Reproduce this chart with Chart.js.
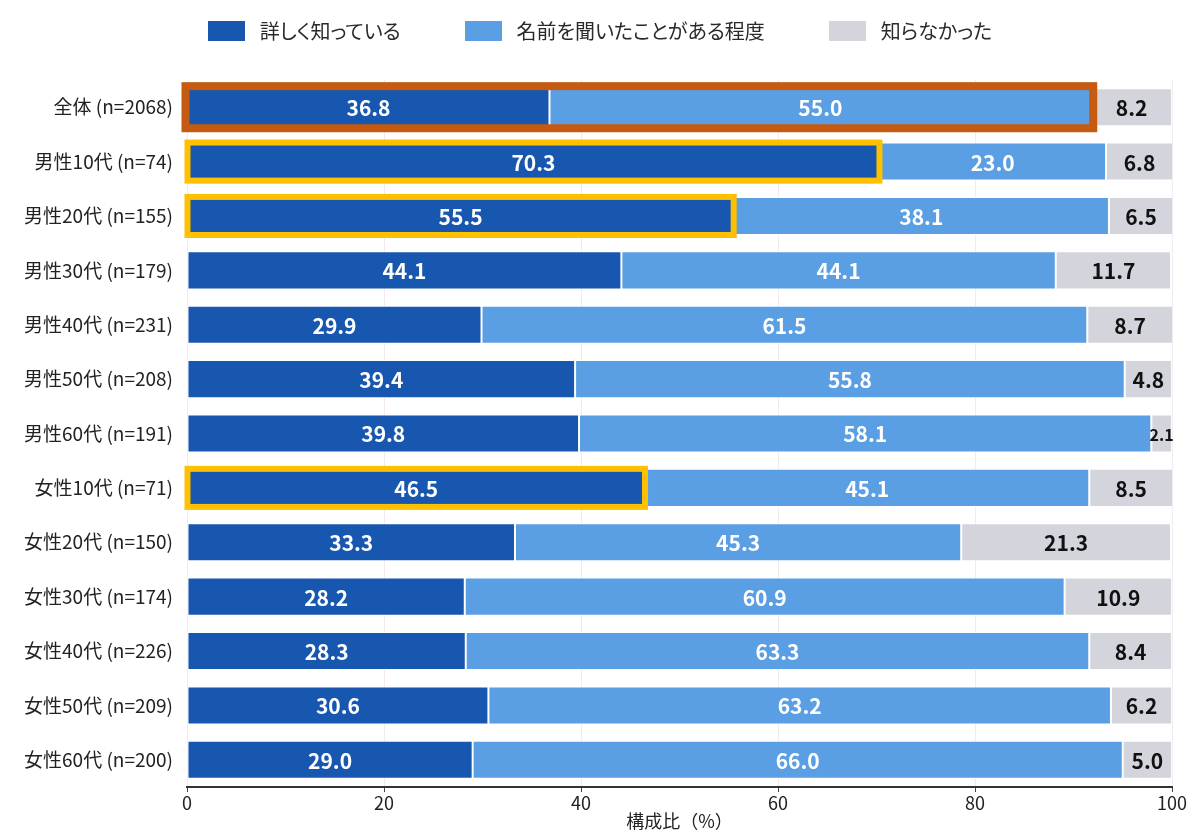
<!DOCTYPE html>
<html lang="ja">
<head>
<meta charset="utf-8">
<script src="https://cdn.jsdelivr.net/npm/chart.js@4.4.1/dist/chart.umd.min.js"></script>
<style>
  body { margin: 0; background: #fff; font-family: "Noto Sans CJK JP", sans-serif; }
  .wrap { position: relative; width: 1200px; height: 836px; }
  #legend {
    position: absolute; top: 17px; left: 0; width: 1200px;
    display: flex; justify-content: center; gap: 64px;
    font-size: 20px; color: #2a2a2a; line-height: 28px;
    font-feature-settings: "palt";
  }
  #legend .item { display: flex; align-items: center; }
  #legend .box { width: 37px; height: 20px; margin-right: 15px; }
</style>
</head>
<body>
<div class="wrap">
  <div id="legend"></div>
  <canvas id="chart" width="1200" height="836"></canvas>
</div>
<script>
// chart data
const categories = [
  '全体 (n=2068)', '男性10代 (n=74)', '男性20代 (n=155)', '男性30代 (n=179)',
  '男性40代 (n=231)', '男性50代 (n=208)', '男性60代 (n=191)', '女性10代 (n=71)',
  '女性20代 (n=150)', '女性30代 (n=174)', '女性40代 (n=226)', '女性50代 (n=209)',
  '女性60代 (n=200)'
];
const seriesNames = ['詳しく知っている', '名前を聞いたことがある程度', '知らなかった'];
const knowWell  = [36.8, 70.3, 55.5, 44.1, 29.9, 39.4, 39.8, 46.5, 33.3, 28.2, 28.3, 30.6, 29.0];
const heardName = [55.0, 23.0, 38.1, 44.1, 61.5, 55.8, 58.1, 45.1, 45.3, 60.9, 63.3, 63.2, 66.0];
const notKnown  = [8.2, 6.8, 6.5, 11.7, 8.7, 4.8, 2.1, 8.5, 21.3, 10.9, 8.4, 6.2, 5.0];

// highlighted rows: [row index, number of segments outlined]
const brownRows = [[0, 2]];
const goldRows = [[1, 1], [2, 1], [7, 1]];

const colors = ['#1857b0', '#5a9fe4', '#d4d4dd'];
const labelColors = ['#ffffff', '#ffffff', '#111111'];
const FONT = '"Noto Sans CJK JP", "Noto Sans", sans-serif';

// HTML legend
const legendEl = document.getElementById('legend');
seriesNames.forEach((name, i) => {
  const item = document.createElement('div');
  item.className = 'item';
  item.innerHTML = `<span class="box" style="background:${colors[i]}"></span><span>${name}</span>`;
  legendEl.appendChild(item);
});

// value labels inside each segment
const segmentLabels = {
  id: 'segmentLabels',
  afterDatasetsDraw(chart) {
    const ctx = chart.ctx;
    ctx.save();
    ctx.textAlign = 'center';
    ctx.textBaseline = 'middle';
    chart.data.datasets.forEach((ds, di) => {
      const meta = chart.getDatasetMeta(di);
      meta.data.forEach((bar, i) => {
        const w = Math.abs(bar.x - bar.base);
        const size = w < 30 ? 16 : 21;
        ctx.font = `bold ${size}px ${FONT}`;
        ctx.fillStyle = labelColors[di];
        ctx.fillText(ds.data[i].toFixed(1), (bar.x + bar.base) / 2, bar.y + 1);
      });
    });
    ctx.restore();
  }
};

// outline boxes around highlighted segments
const outlines = {
  id: 'outlines',
  afterDatasetsDraw(chart) {
    const ctx = chart.ctx;
    const drawBox = (row, upto, color, lw, pad) => {
      const first = chart.getDatasetMeta(0).data[row];
      const last = chart.getDatasetMeta(upto - 1).data[row];
      const h = first.height;
      ctx.strokeStyle = color;
      ctx.lineWidth = lw;
      ctx.strokeRect(first.base - pad, first.y - h / 2 - pad, last.x - first.base + pad * 2, h + pad * 2);
    };
    ctx.save();
    brownRows.forEach(([r, n]) => drawBox(r, n, '#c55a11', 8, 2));
    goldRows.forEach(([r, n]) => drawBox(r, n, '#ffc000', 6, 0));
    ctx.restore();
  }
};

new Chart(document.getElementById('chart'), {
  type: 'bar',
  data: {
    labels: categories,
    datasets: seriesNames.map((name, i) => ({
      label: name,
      data: [knowWell, heardName, notKnown][i],
      backgroundColor: colors[i],
      borderColor: '#ffffff',
      borderWidth: 1,
      borderSkipped: false,
      barPercentage: 0.7,
      categoryPercentage: 1.0
    }))
  },
  options: {
    indexAxis: 'y',
    responsive: false,
    animation: false,
    layout: { padding: { top: 80, right: 28, left: 4, bottom: 0 } },
    plugins: {
      legend: { display: false },
      tooltip: { enabled: false }
    },
    scales: {
      x: {
        stacked: true,
        min: 0,
        max: 100,
        ticks: { stepSize: 20, color: '#222', font: { family: FONT, size: 18 }, padding: 0 },
        grid: { color: '#f3e9ee', tickColor: '#444', tickLength: 5, drawOnChartArea: true },
        border: { color: '#333', width: 2 },
        title: { display: true, text: '構成比（%）', color: '#222', font: { family: FONT, size: 18 }, padding: { top: -4, bottom: 4 } },
        afterFit(scale) { scale.height = 49; }
      },
      y: {
        stacked: true,
        ticks: { color: '#222', font: { family: FONT, size: 19 }, padding: 6 },
        grid: { display: false },
        border: { display: false },
        afterFit(scale) { scale.width = 183; }
      }
    }
  },
  plugins: [segmentLabels, outlines]
});
</script>
</body>
</html>
